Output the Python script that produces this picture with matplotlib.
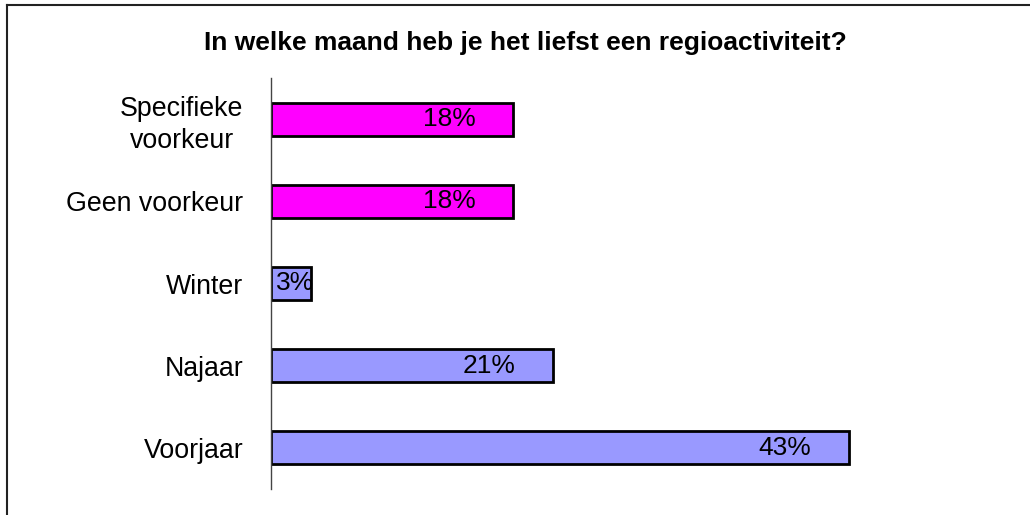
import numpy as np
import matplotlib.pyplot as plt
from matplotlib.lines import Line2D

plt.rcParams['font.family'] = ['Liberation Sans', 'DejaVu Sans']

# data (bottom to top)
categories = ['Voorjaar', 'Najaar', 'Winter', 'Geen voorkeur', 'Specifieke\nvoorkeur']
values = [43, 21, 3, 18, 18]
labels = ['43%', '21%', '3%', '18%', '18%']
colors = ['#9999FF', '#9999FF', '#9999FF', '#FF00FF', '#FF00FF']

fig = plt.figure(figsize=(10.30, 5.15), dpi=100, facecolor='white')
W, H = 1030, 515
# axes: left spine at x=271, y from 78 to 489 (pixels), 13.44 px per %
xmax = 50
ax = fig.add_axes([271 / W, (H - 489) / H, xmax * 13.44 / W, (489 - 78) / H])

y = np.arange(len(categories))
ax.barh(y, values, height=0.4, color=colors, edgecolor='black', linewidth=2)

for yi, v, lab in zip(y, values, labels):
    if v > 6:
        ax.text(v - 2.8, yi, lab, ha='right', va='center', fontsize=19)
    else:
        ax.text(0.4, yi, lab, ha='left', va='center', fontsize=19)

ax.set_xlim(0, xmax)
ax.set_ylim(-0.5, len(categories) - 0.5)
ax.set_yticks(y)
ax.set_yticklabels(categories, fontsize=19.3, multialignment='center', linespacing=1.3)
ax.tick_params(axis='y', length=0, pad=20)
ax.set_xticks([])
for s in ['top', 'right', 'bottom']:
    ax.spines[s].set_visible(False)
ax.spines['left'].set_color('#444444')
ax.spines['left'].set_linewidth(1)

fig.text(525 / W, 1 - 43 / H, 'In welke maand heb je het liefst een regioactiviteit?',
         ha='center', va='center', fontsize=19, fontweight='bold')

# figure border (left and top)
fig.add_artist(Line2D([7 / W, 7 / W], [0, 1 - 5 / H], color='#222222', linewidth=1.5))
fig.add_artist(Line2D([7 / W, 1], [1 - 5 / H, 1 - 5 / H], color='#222222', linewidth=1.5))

fig.savefig('out.png', dpi=100, facecolor='white')
